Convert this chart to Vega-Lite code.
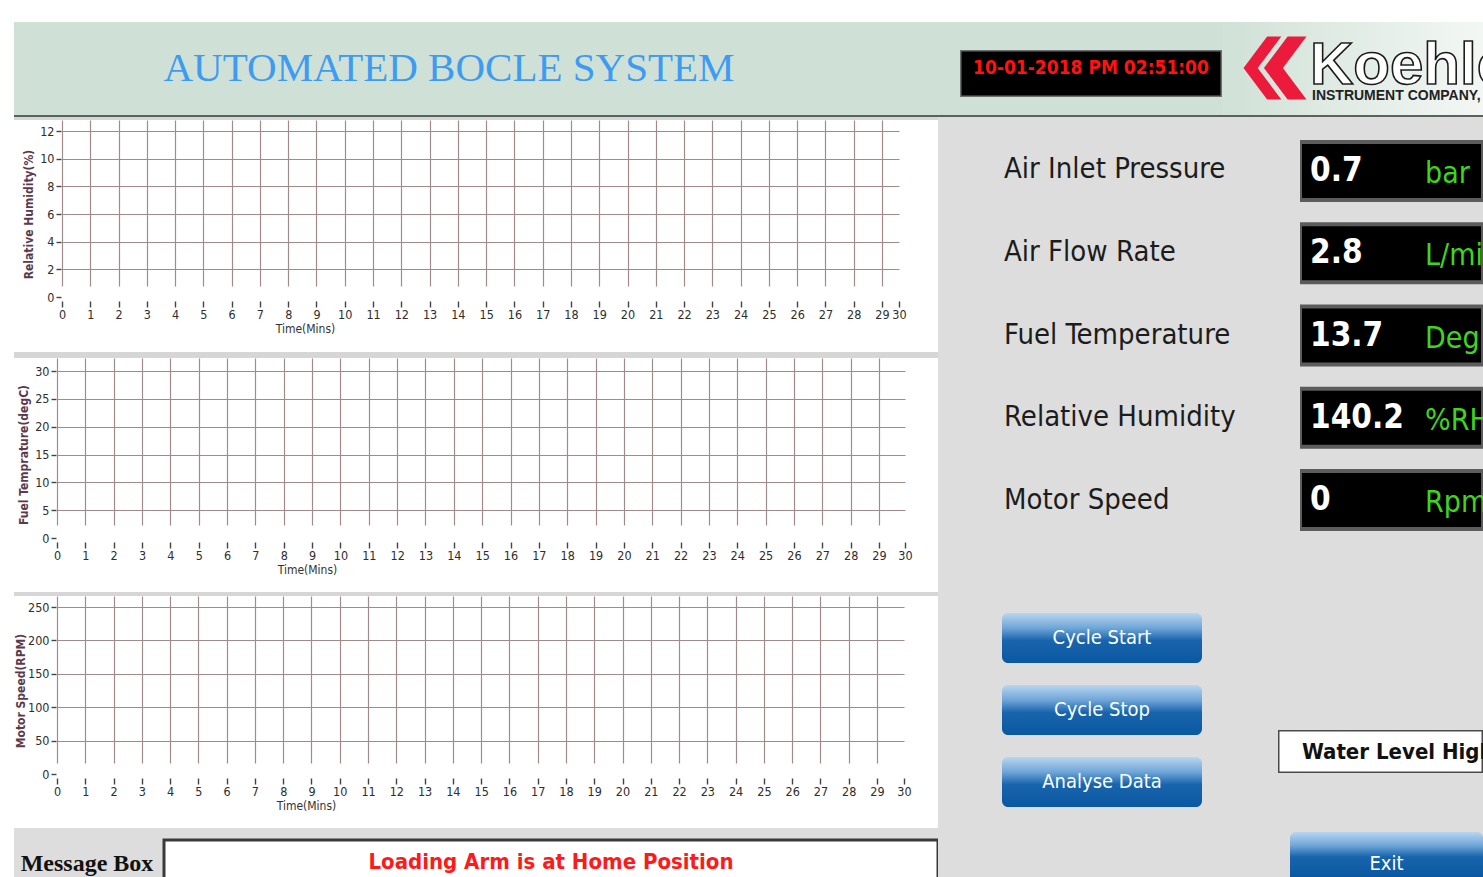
{
  "$schema": "https://vega.github.io/schema/vega-lite/v6.json",
  "background": "#ffffff",
  "padding": {"left": 14, "top": 22, "right": 0, "bottom": 0},
  "spacing": 0,
  "config": {
    "view": {"stroke": null},
    "concat": {"spacing": 0},
    "text": {"font": "DejaVu Sans Condensed, DejaVu Sans, sans-serif"},
    "axis": {
      "domain": false,
      "grid": true,
      "gridColor": "#a08a8a",
      "gridWidth": 1.2,
      "tickColor": "#444444",
      "tickWidth": 1.4,
      "labelOverlap": false,
      "labelFlush": false,
      "labelFont": "DejaVu Sans Condensed, DejaVu Sans, sans-serif",
      "labelFontSize": 12.5,
      "labelColor": "#2e2e2e",
      "titleFont": "DejaVu Sans Condensed, DejaVu Sans, sans-serif",
      "titleFontSize": 12,
      "titleColor": "#333333",
      "titleFontWeight": "normal"
    },
    "axisX": {"tickSize": 10, "tickDash": [0, 4, 6], "labelPadding": 1, "titlePadding": 3},
    "axisY": {"tickSize": 5, "labelPadding": 2, "titleColor": "#5a3a4c", "titleFontWeight": "bold", "titleFontSize": 12, "titlePadding": 4}
  },
  "datasets": {
    "readings": [
      {"parameter": "Air Inlet Pressure", "reading": 0.7, "unit": "bar"},
      {"parameter": "Air Flow Rate", "reading": 2.8, "unit": "L/min"},
      {"parameter": "Fuel Temperature", "reading": 13.7, "unit": "Deg C"},
      {"parameter": "Relative Humidity", "reading": 140.2, "unit": "%RH"},
      {"parameter": "Motor Speed", "reading": 0, "unit": "Rpm"}
    ],
    "buttons": [
      {"button": "Cycle Start"},
      {"button": "Cycle Stop"},
      {"button": "Analyse Data"}
    ]
  },
  "vconcat": [
    {
      "hconcat": [
        {
          "width": 870, "height": 93, "view": {"fill": "#cfe1d6"},
          "data": {"values": [{"title": "AUTOMATED BOCLE SYSTEM"}]},
          "mark": {"type": "text", "font": "Liberation Serif, DejaVu Serif, serif", "fontSize": 41, "color": "#3d9cf2"},
          "encoding": {"text": {"field": "title"}}
        },
        {"width": 76, "height": 93, "view": {"fill": "#cfe1d6"}, "data": {"values": []}, "mark": "point"},
        {
          "vconcat": [
            {"width": 262, "height": 28, "view": {"fill": "#cfe1d6"}, "data": {"values": []}, "mark": "point"},
            {
              "width": 262, "height": 47, "view": {"fill": "#000000"},
              "layer": [
                {
                  "data": {"values": [{}]},
                  "mark": {"type": "rect", "fill": "#000000", "stroke": "#707070", "strokeWidth": 3, "clip": true},
                  "encoding": {}
                },
                {
                  "data": {"values": [{"clock": "10-01-2018 PM 02:51:00"}]},
                  "mark": {"type": "text", "fontSize": 19, "fontWeight": "bold", "color": "#ff1212", "clip": true},
                  "encoding": {
                    "text": {"field": "clock"},
                    "y": {"field": "clock", "type": "nominal", "scale": {"type": "point", "range": [18, 18], "padding": 0}, "axis": null}
                  }
                }
              ]
            },
            {"width": 262, "height": 18, "view": {"fill": "#cfe1d6"}, "data": {"values": []}, "mark": "point"}
          ],
          "spacing": 0
        },
        {"width": 21, "height": 93, "view": {"fill": "#d1e2d8"}, "data": {"values": []}, "mark": "point"},
        {
          "width": 240, "height": 93, "view": {"fill": "#d3e3d9"},
          "layer": [
            {
              "data": {"values": [{}]},
              "mark": {"type": "rect", "clip": true, "fill": {"gradient": "linear", "x1": 0, "y1": 0, "x2": 1, "y2": 0, "stops": [{"offset": 0, "color": "#d3e3d9"}, {"offset": 1, "color": "#f3f7f4"}]}},
              "encoding": {}
            },
            {
              "data": {"values": [{"logo": "Koehler"}]},
              "mark": {"type": "point", "filled": true, "opacity": 1, "color": "#ec1b3c", "size": 3969, "strokeWidth": 0,
                "shape": "M -1 0 L -0.25 -1 L 0.2 -1 L -0.55 0 L 0.2 1 L -0.25 1 Z M -0.35 0 L 0.4 -1 L 1 -1 L 0.25 0 L 1 1 L 0.4 1 Z"},
              "encoding": {
                "x": {"field": "logo", "type": "nominal", "scale": {"type": "point", "range": [32, 32], "padding": 0}, "axis": null},
                "y": {"field": "logo", "type": "nominal", "scale": {"type": "point", "range": [46, 46], "padding": 0}, "axis": null}
              }
            },
            {
              "data": {"values": [{"brand": "Koehler"}]},
              "mark": {"type": "text", "align": "left", "baseline": "alphabetic", "font": "Liberation Sans, Arial, sans-serif", "fontSize": 60, "fontWeight": "bold", "fill": "#ffffff", "stroke": "#1a1a1a", "strokeWidth": 1.6, "clip": true},
              "encoding": {
                "text": {"field": "brand"},
                "x": {"field": "brand", "type": "nominal", "scale": {"type": "point", "range": [67, 67], "padding": 0}, "axis": null},
                "y": {"field": "brand", "type": "nominal", "scale": {"type": "point", "range": [62, 62], "padding": 0}, "axis": null}
              }
            },
            {
              "data": {"values": [{"company": "INSTRUMENT COMPANY, INC."}]},
              "mark": {"type": "text", "align": "left", "baseline": "alphabetic", "font": "Liberation Sans, Arial, sans-serif", "fontSize": 14, "fontWeight": "bold", "color": "#222222", "clip": true},
              "encoding": {
                "text": {"field": "company"},
                "x": {"field": "company", "type": "nominal", "scale": {"type": "point", "range": [69, 69], "padding": 0}, "axis": null},
                "y": {"field": "company", "type": "nominal", "scale": {"type": "point", "range": [78, 78], "padding": 0}, "axis": null}
              }
            }
          ],
          "resolve": {"scale": {"x": "independent", "y": "independent"}}
        }
      ],
      "spacing": 0
    },
    {"width": 1469, "height": 2, "view": {"fill": "#59635e"}, "data": {"values": []}, "mark": "point"},
    {
      "hconcat": [
        {
          "vconcat": [
            {"width": 924, "height": 3, "view": {"fill": "#d6d6d6"}, "data": {"values": []}, "mark": "point"},
            {
              "width": 924, "height": 177,
              "view": {"fill": "#ffffff"},
              "data": {"values": []},
              "mark": {"type": "line", "color": "#d40000"},
              "encoding": {
                "x": {"field": "time_min", "type": "quantitative", "title": "Time(Mins)",
                  "scale": {"domain": [0, 29, 30], "range": [48, 868, 885], "nice": false, "zero": false},
                  "axis": {"values": [0,1,2,3,4,5,6,7,8,9,10,11,12,13,14,15,16,17,18,19,20,21,22,23,24,25,26,27,28,29,30], "titleX": 291,
                    "gridOpacity": {"condition": {"test": "datum.value === 30", "value": 0}, "value": 1}}},
                "y": {"field": "relative_humidity", "type": "quantitative", "title": "Relative Humidity(%)",
                  "scale": {"domain": [0, 12], "range": [177, 11], "nice": false, "zero": false},
                  "axis": {"values": [0,2,4,6,8,10,12], "offset": -47,
                    "gridOpacity": {"condition": {"test": "datum.value === 0", "value": 0}, "value": 1}}}
              }
            },
            {"width": 924, "height": 55, "data": {"values": []}, "mark": "point"},
            {"width": 924, "height": 6, "view": {"fill": "#d6d6d6"}, "data": {"values": []}, "mark": "point"},
            {
              "width": 924, "height": 180,
              "view": {"fill": "#ffffff"},
              "data": {"values": []},
              "mark": {"type": "line", "color": "#d40000"},
              "encoding": {
                "x": {"field": "time_min", "type": "quantitative", "title": "Time(Mins)",
                  "scale": {"domain": [0, 29, 30], "range": [43, 865, 891], "nice": false, "zero": false},
                  "axis": {"values": [0,1,2,3,4,5,6,7,8,9,10,11,12,13,14,15,16,17,18,19,20,21,22,23,24,25,26,27,28,29,30], "titleX": 293,
                    "gridOpacity": {"condition": {"test": "datum.value === 30", "value": 0}, "value": 1}}},
                "y": {"field": "fuel_temperature", "type": "quantitative", "title": "Fuel Temprature(degC)",
                  "scale": {"domain": [0, 30], "range": [180, 13], "nice": false, "zero": false},
                  "axis": {"values": [0,5,10,15,20,25,30], "offset": -42,
                    "gridOpacity": {"condition": {"test": "datum.value === 0", "value": 0}, "value": 1}}}
              }
            },
            {"width": 924, "height": 54, "data": {"values": []}, "mark": "point"},
            {"width": 924, "height": 4, "view": {"fill": "#d6d6d6"}, "data": {"values": []}, "mark": "point"},
            {
              "width": 924, "height": 178,
              "view": {"fill": "#ffffff"},
              "data": {"values": []},
              "mark": {"type": "line", "color": "#d40000"},
              "encoding": {
                "x": {"field": "time_min", "type": "quantitative", "title": "Time(Mins)",
                  "scale": {"domain": [0, 29, 30], "range": [43, 863, 890], "nice": false, "zero": false},
                  "axis": {"values": [0,1,2,3,4,5,6,7,8,9,10,11,12,13,14,15,16,17,18,19,20,21,22,23,24,25,26,27,28,29,30], "titleX": 292,
                    "gridOpacity": {"condition": {"test": "datum.value === 30", "value": 0}, "value": 1}}},
                "y": {"field": "motor_speed", "type": "quantitative", "title": "Motor Speed(RPM)",
                  "scale": {"domain": [0, 250], "range": [178, 11], "nice": false, "zero": false},
                  "axis": {"values": [0,50,100,150,200,250], "offset": -42, "titleX": -29,
                    "gridOpacity": {"condition": {"test": "datum.value === 0", "value": 0}, "value": 1}}}
              }
            },
            {"width": 924, "height": 54, "data": {"values": []}, "mark": "point"},
            {
              "width": 924, "height": 49, "view": {"fill": "#dddddd"},
              "layer": [
                {
                  "data": {"values": [{"message": "Loading Arm is at Home Position"}]},
                  "mark": {"type": "rect", "fill": "#ffffff", "stroke": "#3a3a3a", "strokeWidth": 3, "clip": true},
                  "encoding": {
                    "x": {"field": "message", "type": "nominal", "scale": {"type": "band", "range": [150, 924], "paddingInner": 0, "paddingOuter": 0}, "axis": null},
                    "y": {"field": "message", "type": "nominal", "scale": {"type": "band", "range": [12, 56], "paddingInner": 0, "paddingOuter": 0}, "axis": null}
                  }
                },
                {
                  "data": {"values": [{"message": "Loading Arm is at Home Position"}]},
                  "mark": {"type": "text", "fontSize": 22, "fontWeight": "bold", "color": "#ff1a1a", "clip": true},
                  "encoding": {
                    "text": {"field": "message"},
                    "x": {"field": "message", "type": "nominal", "scale": {"type": "point", "range": [537, 537], "padding": 0}, "axis": null},
                    "y": {"field": "message", "type": "nominal", "scale": {"type": "point", "range": [34, 34], "padding": 0}, "axis": null}
                  }
                },
                {
                  "data": {"values": [{"label": "Message Box"}]},
                  "mark": {"type": "text", "font": "Liberation Serif, DejaVu Serif, serif", "fontWeight": "bold", "fontSize": 24, "color": "#111111"},
                  "encoding": {
                    "text": {"field": "label"},
                    "x": {"field": "label", "type": "nominal", "scale": {"type": "point", "range": [73, 73], "padding": 0}, "axis": null},
                    "y": {"field": "label", "type": "nominal", "scale": {"type": "point", "range": [36, 36], "padding": 0}, "axis": null}
                  }
                }
              ],
              "resolve": {"scale": {"x": "independent", "y": "independent"}}
            }
          ],
          "spacing": 0,
          "bounds": "flush"
        },
        {
          "vconcat": [
            {
              "hconcat": [
                {
                  "width": 362, "height": 443, "view": {"fill": "#dddddd"},
                  "data": {"name": "readings"},
                  "mark": {"type": "text", "align": "left", "fontSize": 29, "color": "#1c1c1c"},
                  "encoding": {
                    "text": {"field": "parameter"},
                    "x": {"field": "parameter", "type": "nominal", "scale": {"type": "point", "range": [66, 66], "padding": 0}, "axis": null},
                    "y": {"field": "parameter", "type": "nominal", "sort": null, "scale": {"type": "point", "range": [52, 383], "padding": 0}, "axis": null}
                  }
                },
                {
                  "width": 183, "height": 443, "view": {"fill": "#dddddd"},
                  "data": {"name": "readings"},
                  "layer": [
                    {
                      "mark": {"type": "rect", "fill": "#000000", "stroke": "#5c5c5c", "strokeWidth": 4, "clip": true},
                      "encoding": {
                        "y": {"field": "parameter", "type": "nominal", "sort": null, "scale": {"type": "band", "range": [25, 412], "paddingInner": 0.295, "paddingOuter": 0}, "axis": null}
                      }
                    },
                    {
                      "mark": {"type": "text", "align": "left", "fontSize": 33, "fontWeight": "bold", "color": "#ffffff", "clip": true},
                      "encoding": {
                        "text": {"field": "reading", "type": "quantitative"},
                        "x": {"field": "parameter", "type": "nominal", "scale": {"type": "point", "range": [10, 10], "padding": 0}, "axis": null},
                        "y": {"field": "parameter", "type": "nominal", "sort": null, "scale": {"type": "point", "range": [54, 383], "padding": 0}, "axis": null}
                      }
                    },
                    {
                      "mark": {"type": "text", "align": "left", "fontSize": 30, "color": "#3fd51c", "clip": true},
                      "encoding": {
                        "text": {"field": "unit"},
                        "x": {"field": "parameter", "type": "nominal", "scale": {"type": "point", "range": [125, 125], "padding": 0}, "axis": null},
                        "y": {"field": "parameter", "type": "nominal", "sort": null, "scale": {"type": "point", "range": [57, 386], "padding": 0}, "axis": null}
                      }
                    }
                  ],
                  "resolve": {"scale": {"x": "independent", "y": "independent"}}
                }
              ],
              "spacing": 0
            },
            {
              "hconcat": [
                {"width": 64, "height": 317, "view": {"fill": "#dddddd"}, "data": {"values": []}, "mark": "point"},
                {
                  "width": 200, "height": 317, "view": {"fill": "#dddddd"},
                  "data": {"name": "buttons"},
                  "layer": [
                    {
                      "mark": {"type": "rect", "cornerRadius": 6, "clip": true,
                        "fill": {"gradient": "linear", "x1": 0, "y1": 0, "x2": 0, "y2": 1, "stops": [{"offset": 0, "color": "#b9d5ef"}, {"offset": 0.3, "color": "#6fa6d8"}, {"offset": 0.55, "color": "#1865ad"}, {"offset": 1, "color": "#0b58a2"}]}},
                      "encoding": {
                        "y": {"field": "button", "type": "nominal", "sort": null, "scale": {"type": "band", "range": [53, 247], "paddingInner": 0.3056, "paddingOuter": 0}, "axis": null}
                      }
                    },
                    {
                      "mark": {"type": "text", "fontSize": 20, "color": "#ffffff"},
                      "encoding": {
                        "text": {"field": "button"},
                        "y": {"field": "button", "type": "nominal", "sort": null, "scale": {"type": "point", "range": [78, 222], "padding": 0}, "axis": null}
                      }
                    }
                  ],
                  "resolve": {"scale": {"y": "independent"}}
                },
                {"width": 76, "height": 317, "view": {"fill": "#dddddd"}, "data": {"values": []}, "mark": "point"},
                {
                  "vconcat": [
                    {"width": 205, "height": 170, "view": {"fill": "#dddddd"}, "data": {"values": []}, "mark": "point"},
                    {
                      "width": 205, "height": 43, "view": {"fill": "#ffffff"},
                      "layer": [
                        {
                          "data": {"values": [{}]},
                          "mark": {"type": "rect", "fill": "#ffffff", "stroke": "#4a4a4a", "strokeWidth": 3, "clip": true},
                          "encoding": {}
                        },
                        {
                          "data": {"values": [{"status": "Water Level High"}]},
                          "mark": {"type": "text", "align": "left", "fontSize": 22, "fontWeight": "bold", "color": "#111111", "clip": true},
                          "encoding": {
                            "text": {"field": "status"},
                            "x": {"field": "status", "type": "nominal", "scale": {"type": "point", "range": [24, 24], "padding": 0}, "axis": null}
                          }
                        }
                      ]
                    },
                    {"width": 205, "height": 59, "view": {"fill": "#dddddd"}, "data": {"values": []}, "mark": "point"},
                    {
                      "hconcat": [
                        {"width": 12, "height": 45, "view": {"fill": "#dddddd"}, "data": {"values": []}, "mark": "point"},
                        {
                          "width": 193, "height": 45, "view": {"fill": "#dddddd"},
                          "layer": [
                            {
                              "data": {"values": [{}]},
                              "mark": {"type": "rect", "cornerRadiusTopLeft": 6, "cornerRadiusTopRight": 6, "clip": true,
                                "fill": {"gradient": "linear", "x1": 0, "y1": 0, "x2": 0, "y2": 1, "stops": [{"offset": 0, "color": "#b9d5ef"}, {"offset": 0.3, "color": "#6fa6d8"}, {"offset": 0.55, "color": "#1865ad"}, {"offset": 1, "color": "#0b58a2"}]}},
                              "encoding": {}
                            },
                            {
                              "data": {"values": [{"button": "Exit"}]},
                              "mark": {"type": "text", "fontSize": 20, "color": "#ffffff", "clip": true},
                              "encoding": {
                                "text": {"field": "button"},
                                "y": {"field": "button", "type": "nominal", "scale": {"type": "point", "range": [32, 32], "padding": 0}, "axis": null}
                              }
                            }
                          ]
                        }
                      ],
                      "spacing": 0
                    }
                  ],
                  "spacing": 0
                }
              ],
              "spacing": 0
            }
          ],
          "spacing": 0
        }
      ],
      "spacing": 0
    }
  ]
}
